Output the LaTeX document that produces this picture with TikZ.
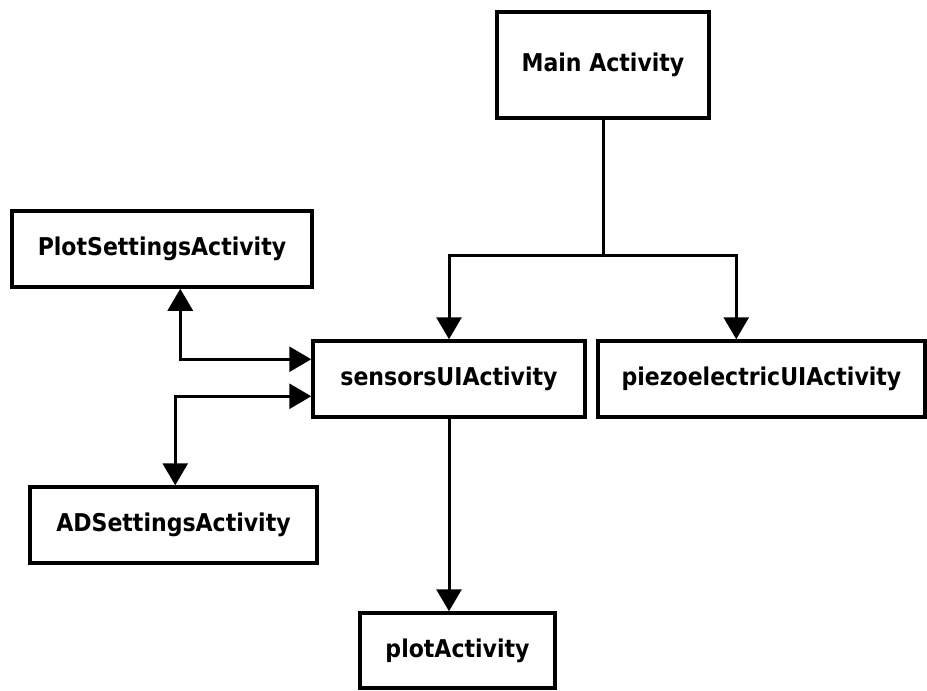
\documentclass[tikz,border=0pt]{standalone}
\usepackage{fontspec}
\newfontfamily\lblfont{DejaVu Sans Condensed}
\usetikzlibrary{arrows.meta}
\begin{document}
\begin{tikzpicture}[x=1pt,y=-1pt,
  box/.style={draw, line width=3.5pt, rectangle, inner sep=0pt,
    font=\lblfont\bfseries\fontsize{24.5}{29}\selectfont},
  link/.style={line width=3pt},
  tip/.tip={Triangle[width=25pt,length=22pt]},
  arr/.style={link, -tip},
  dbl/.style={link, tip-tip}]
\useasboundingbox (0,0) rectangle (927,691);
\fill[white] (0,0) rectangle (927,691);

% activities
\node[box, minimum width=212pt, minimum height=106pt] (main) at (603,65) {Main Activity};
\node[box, minimum width=300pt, minimum height=76pt] (plotset) at (162,249) {PlotSettingsActivity};
\node[box, minimum width=272pt, minimum height=76pt] (sensors) at (449,379) {sensorsUIActivity};
\node[box, minimum width=327pt, minimum height=76pt] (piezo) at (761.5,379) {piezoelectricUIActivity};
\node[box, minimum width=287pt, minimum height=76pt] (ad) at (173.5,525) {ADSettingsActivity};
\node[box, minimum width=195pt, minimum height=75pt] (plot) at (457.5,650.5) {plotActivity};

% main activity launches the two UI activities
\draw[link] (main.south) -- ++(0,136) coordinate (split);
\draw[arr] (split) -| (sensors.north);
\draw[arr] (split) -| ([xshift=140pt]piezo.north west);

% sensors UI opens the plot
\draw[arr] (sensors.south) -- (sensors.south |- plot.north);

% settings round trips
\draw[dbl] ([xshift=170pt]plotset.south west) |- ([yshift=-20pt]sensors.north west);
\draw[dbl] ([xshift=147pt]ad.north west) |- ([yshift=-57pt]sensors.north west);
\end{tikzpicture}
\end{document}
